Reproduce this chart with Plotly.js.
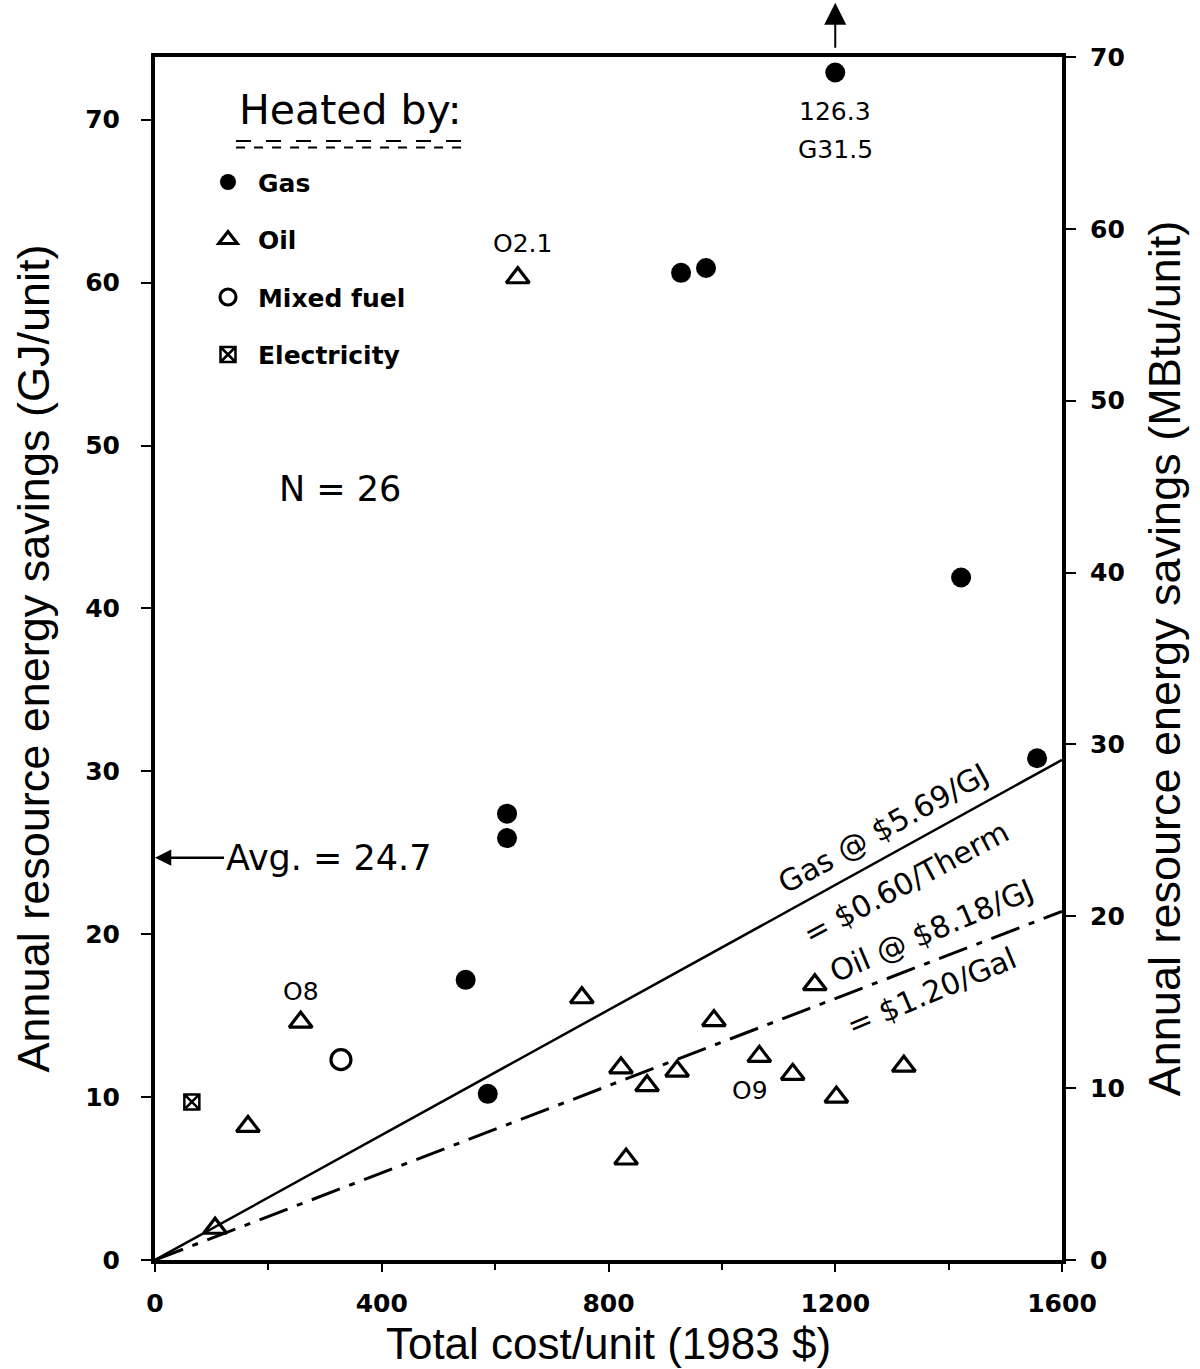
<!DOCTYPE html>
<html>
<head>
<meta charset="utf-8">
<script src="https://cdn.plot.ly/plotly-3.0.1.min.js"></script>
<style>html,body{margin:0;padding:0;background:#fff;}#chart{width:1200px;height:1369px;}</style>
</head>
<body>
<div id="chart"></div>
<script>
// ---------- data ----------
const costGas    = [1200, 928, 972, 1422, 1556, 621, 621, 548, 587];
const savingsGas = [126.3, 60.6, 60.9, 41.9, 30.8, 27.4, 25.9, 17.2, 10.2];

const costOil    = [640, 257, 164, 106, 753, 822, 868, 921, 831, 986, 1066, 1125, 1202, 1164, 1321];
const savingsOil = [60.3, 14.6, 8.2, 1.95, 16.1, 11.8, 10.7, 11.6, 6.2, 14.7, 12.5, 11.4, 10.0, 16.9, 11.9];

const costMixed    = [328];
const savingsMixed = [12.3];

const costElec    = [65];
const savingsElec = [9.7];

// break-even lines (GJ/unit) at the ends of the cost axis
const lineCost    = [0, 1600];
const gasLineGJ   = [0, 30.7];
const oilLineGJ   = [0, 21.4];

const GJ_PER_MBTU = 1.055;
const axisMaxMBtu = 70;
const axisMaxGJ = axisMaxMBtu * GJ_PER_MBTU;
const offScaleY = 72.9;   // where an off-scale point is drawn

// ---------- derived ----------
const allSavings = savingsGas.concat(savingsOil, savingsMixed, savingsElec);
const N = allSavings.length;
const avg = allSavings.reduce((a, b) => a + b, 0) / N;
const gasPlotY = savingsGas.map(v => v > axisMaxGJ ? offScaleY : v);

const F = 'DejaVu Sans, Verdana, sans-serif';
const TITLEF = 'Liberation Sans, Arial, sans-serif';

const traces = [
  {x: lineCost, y: gasLineGJ, mode: 'lines', line: {color: '#000', width: 2.5}, showlegend: false, hoverinfo: 'skip'},
  {x: lineCost, y: oilLineGJ, mode: 'lines', line: {color: '#000', width: 3, dash: '30px,10px,6px,10px'}, showlegend: false, hoverinfo: 'skip'},
  {x: costGas, y: gasPlotY, name: 'Gas', mode: 'markers', legendgroup: 'g',
   marker: {symbol: 'circle', size: 20, color: '#000'}},
  {x: costOil, y: savingsOil, name: 'Oil', mode: 'markers', legendgroup: 'o',
   marker: {symbol: 'triangle-up-open', size: 20, color: '#000', line: {width: 3.2, color: '#000'}}},
  {x: costMixed, y: savingsMixed, name: 'Mixed fuel', mode: 'markers', legendgroup: 'm',
   marker: {symbol: 'circle-open', size: 20, color: '#000', line: {width: 3.2, color: '#000'}}},
  {x: costElec, y: savingsElec, name: 'Electricity', mode: 'markers', legendgroup: 'e',
   marker: {symbol: 'square-x-open', size: 15, color: '#000', line: {width: 2.5, color: '#000'}}},
  {x: [], y: [], yaxis: 'y2', showlegend: false, hoverinfo: 'skip'}
];

const ann = (x, y, text, size, extra) => Object.assign({x: x, y: y, xref: 'x', yref: 'y', text: text, showarrow: false,
  font: {family: F, size: size, color: '#000'}}, extra || {});

const annotations = [
  ann(344, 70.6, 'Heated by:', 41),
  ann(326, 47.3, 'N = ' + N, 35),
  ann(0, avg, 'Avg. = ' + avg.toFixed(1), 35, {showarrow: true, ax: 173, ay: 0, arrowhead: 2, arrowsize: 1.3, arrowwidth: 2.5, arrowcolor: '#000', standoff: 0}),
  ann(costGas[0], 1.045, ' ', 10, {yref: 'paper', showarrow: true, ax: 0, ay: 52, arrowhead: 2, arrowsize: 2.2, arrowwidth: 2, arrowcolor: '#000', standoff: 0}),
  ann(costGas[0], 70.5, String(savingsGas[0]), 25),
  ann(costGas[0], 68.2, 'G31.5', 25),
  ann(649, 62.4, 'O2.1', 25),
  ann(257, 16.5, 'O8', 25),
  ann(1050, 10.4, 'O9', 25),
  ann(1284, 26.5, 'Gas @ $5.69/GJ', 30, {textangle: -29}),
  ann(1325, 23.2, '= $0.60/Therm', 30, {textangle: -28}),
  ann(1370, 20.2, 'Oil @ $8.18/GJ', 30, {textangle: -23}),
  ann(1370, 16.5, '= $1.20/Gal', 30, {textangle: -23})
];

const shapes = [
  {type: 'line', xref: 'x', yref: 'y', x0: 143, x1: 547, y0: 68.7, y1: 68.7, line: {color: '#000', width: 2, dash: 'longdash'}},
  {type: 'line', xref: 'x', yref: 'y', x0: 143, x1: 547, y0: 68.3, y1: 68.3, line: {color: '#000', width: 2, dash: 'dash'}}
];

const tickF = {family: F, size: 25, weight: 'bold', color: '#000'};

const layout = {
  width: 1200, height: 1369,
  margin: {l: 155, r: 138, t: 57, b: 109},
  paper_bgcolor: '#fff', plot_bgcolor: '#fff',
  font: {family: F, color: '#000'},
  showlegend: true,
  legend: {x: 0.0474, y: 0.915, xanchor: 'left', yanchor: 'top', traceorder: 'grouped', tracegroupgap: 22, itemwidth: 50,
           font: {family: F, size: 25, color: '#000', weight: 'bold'}, bgcolor: 'rgba(0,0,0,0)'},
  xaxis: {range: [0, 1600], dtick: 400, tick0: 0, ticks: 'outside', ticklen: 8, tickwidth: 2, tickcolor: '#000',
          minor: {dtick: 200, ticks: 'outside', ticklen: 6, tickwidth: 2, tickcolor: '#000'},
          showline: true, linewidth: 4, linecolor: '#000', mirror: true, showgrid: false, zeroline: false,
          tickfont: tickF, ticklabelstandoff: 10,
          title: {text: 'Total cost/unit (1983 $)', font: {family: TITLEF, size: 44, color: '#000'}, standoff: 12}},
  yaxis: {range: [0, axisMaxGJ], dtick: 10, tick0: 0, ticks: 'outside', ticklen: 10, tickwidth: 2, tickcolor: '#000',
          showline: true, linewidth: 4, linecolor: '#000', showgrid: false, zeroline: false,
          tickfont: tickF, ticklabelstandoff: 16,
          title: {text: 'Annual resource energy savings (GJ/unit)', font: {family: TITLEF, size: 45, color: '#000'}, standoff: 22}},
  yaxis2: {overlaying: 'y', side: 'right', anchor: 'x', range: [0, axisMaxMBtu], dtick: 10, tick0: 0,
           ticks: 'outside', ticklen: 10, tickwidth: 2, tickcolor: '#000',
           showline: true, linewidth: 4, linecolor: '#000', showgrid: false, zeroline: false,
           tickfont: tickF, ticklabelstandoff: 9,
           title: {text: 'Annual resource energy savings (MBtu/unit)', font: {family: TITLEF, size: 45, color: '#000'}, standoff: 26}},
  annotations: annotations,
  shapes: shapes
};

Plotly.newPlot('chart', traces, layout, {displayModeBar: false, staticPlot: true});
</script>
</body>
</html>
